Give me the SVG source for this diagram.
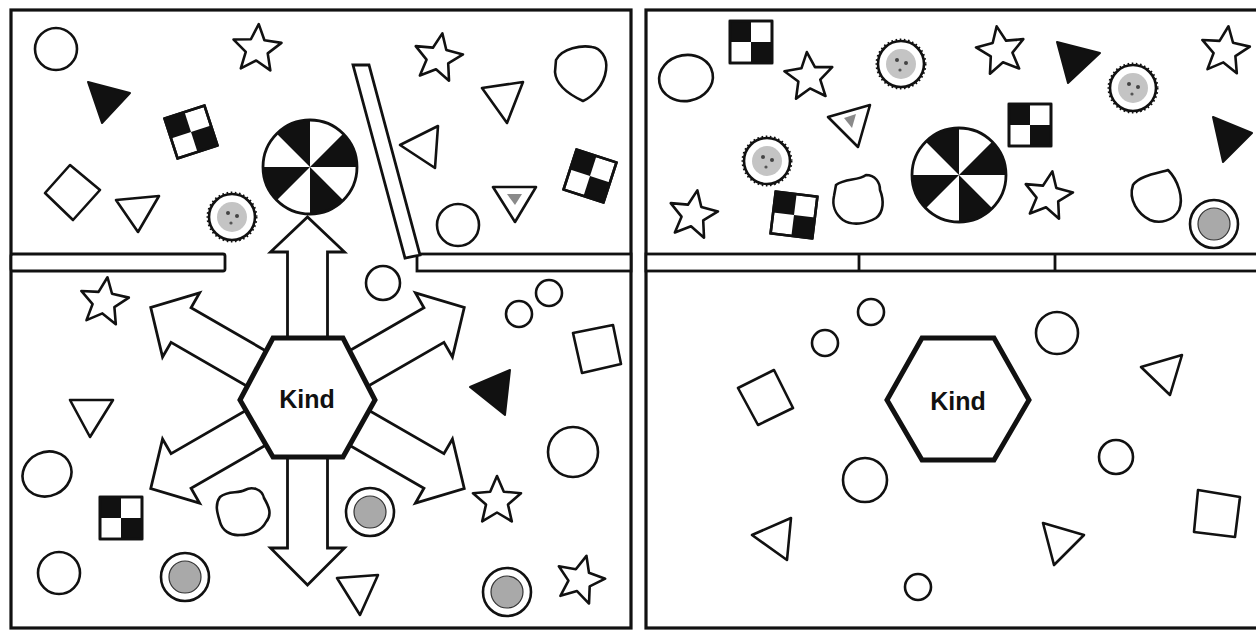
<svg xmlns="http://www.w3.org/2000/svg" xmlns:xlink="http://www.w3.org/1999/xlink" width="1256" height="633" viewBox="0 0 1256 633">
<style>
.o{fill:#fff;stroke:#111;stroke-width:2.6;stroke-linejoin:round}
.f{fill:#111;stroke:#111;stroke-width:2;stroke-linejoin:round}
.panel{fill:#fff;stroke:#111;stroke-width:3.2}
.shelf{fill:#fff;stroke:#111;stroke-width:2.8}
.hex{fill:#fff;stroke:#111;stroke-width:5;stroke-linejoin:miter}
.arrow{fill:#fff;stroke:#111;stroke-width:2.8;stroke-linejoin:miter}
.lbl{font-family:"Liberation Sans",Arial,sans-serif;font-weight:bold;font-size:25px;fill:#111;text-anchor:middle}
</style>
<defs>
<polygon id="star" class="o" points="0,-25 6.8,-9.3 24,-7.8 11,3.6 14.8,20.4 0,11.5 -14.8,20.4 -11,3.6 -24,-7.8 -6.8,-9.3"/>
<g id="checker">
<rect x="-21" y="-21" width="42" height="42" class="o"/>
<rect x="-21" y="-21" width="21" height="21" fill="#111"/>
<rect x="0" y="0" width="21" height="21" fill="#111"/>
<rect x="-21" y="-21" width="42" height="42" fill="none" stroke="#111" stroke-width="2.6"/>
</g>
<g id="pinwheel">
<circle r="47" fill="#fff"/>
<path d="M0,0 L33.2,-33.2 A47,47 0 0 1 47,0 Z M0,0 L33.2,33.2 A47,47 0 0 1 0,47 Z M0,0 L-33.2,33.2 A47,47 0 0 1 -47,0 Z M0,0 L-33.2,-33.2 A47,47 0 0 1 0,-47 Z" fill="#111"/>
<circle r="47" fill="none" stroke="#111" stroke-width="2.8"/>
</g>
<g id="cellA">
<circle r="24" class="o"/>
<circle r="16" fill="#a9a9a9" stroke="#333" stroke-width="1.2"/>
</g>
<g id="cellB">
<circle r="23" class="o"/>
<circle r="24.5" fill="none" stroke="#111" stroke-width="2" stroke-dasharray="1.6 2.6"/>
<circle r="15" fill="#c4c4c4"/>
<circle cx="-4" cy="-4" r="2" fill="#444"/>
<circle cx="5" cy="-1" r="2" fill="#444"/>
<circle cx="-1" cy="6" r="1.6" fill="#555"/>
</g>
<path id="arrowD" class="arrow" d="M-20,0 L-20,-146 L-37,-146 L0,-181 L37,-146 L20,-146 L20,0 Z"/>
</defs>

<g id="panel-left">
<rect class="panel" x="11" y="10" width="620" height="618"/>
</g>
<g id="panel-right">
<rect class="panel" x="646" y="10" width="620" height="618"/>
</g>

<g id="shelves">
<rect class="shelf" x="11" y="254" width="214" height="17" rx="2"/>
<rect class="shelf" x="417" y="254" width="214" height="17"/>
<polygon class="shelf" points="353,65 369,65 420,255 405,258"/>
<rect class="shelf" x="646" y="254" width="620" height="17"/>
<line x1="859" y1="254" x2="859" y2="271" stroke="#111" stroke-width="2.8"/>
<line x1="1055" y1="254" x2="1055" y2="271" stroke="#111" stroke-width="2.8"/>
</g>

<g id="connectors">
<use xlink:href="#arrowD" transform="translate(307.5,398) rotate(0)"/>
<use xlink:href="#arrowD" transform="translate(307.5,398) rotate(60)"/>
<use xlink:href="#arrowD" transform="translate(307.5,398) rotate(120)"/>
<path class="arrow" transform="translate(307.5,398) rotate(180)" d="M-20,0 L-20,-150 L-37,-150 L0,-187 L37,-150 L20,-150 L20,0 Z"/>
<use xlink:href="#arrowD" transform="translate(307.5,398) rotate(240)"/>
<use xlink:href="#arrowD" transform="translate(307.5,398) rotate(300)"/>
</g>

<g id="kind-left">
<polygon class="hex" points="240,400 273,338 343,338 375,400 343,457 273,457"/>
<text class="lbl" x="307" y="408">Kind</text>
</g>
<g id="kind-right">
<polygon class="hex" points="887,400 922,338 994,338 1029,400 994,460 922,460"/>
<text class="lbl" x="958" y="410">Kind</text>
</g>

<g id="left-top">
<circle class="o" cx="56" cy="49" r="21"/>
<use xlink:href="#star" transform="translate(257,49) rotate(4)"/>
<polygon class="f" points="88,82 130,93 102,123"/>
<use xlink:href="#checker" transform="translate(191,132) rotate(-18)"/>
<polygon class="o" points="45,193 70,165 100,190 73,220"/>
<polygon class="o" points="116,200 159,196 138,232"/>
<use xlink:href="#cellB" transform="translate(232,217)"/>
<use xlink:href="#pinwheel" transform="translate(310,167)"/>
<use xlink:href="#star" transform="translate(438,58) rotate(10)"/>
<path class="o" d="M556,60 C562,48 582,45 592,47 C600,48 608,57 606,70 C604,86 592,97 583,101 C570,95 556,86 555,72 Z"/>
<polygon class="o" points="482,88 523,82 507,123"/>
<polygon class="o" points="400,145 438,126 435,168"/>
<circle class="o" cx="458" cy="225" r="21"/>
<polygon class="o" points="493,187 536,187 515,222"/>
<polygon fill="#8a8a8a" points="507,194 522,194 515,205"/>
<use xlink:href="#checker" transform="translate(590,176) rotate(18)"/>
</g>

<g id="left-bottom">
<use xlink:href="#star" transform="translate(104,302) rotate(8)"/>
<polygon class="o" points="70,400 113,400 90,437"/>
<ellipse class="o" cx="47" cy="474" rx="25" ry="22" transform="rotate(-25 47 474)"/>
<use xlink:href="#checker" transform="translate(121,518)"/>
<circle class="o" cx="59" cy="573" r="21"/>
<use xlink:href="#cellA" transform="translate(185,577)"/>
<path class="o" d="M220,497 C228,490 238,494 245,490 C252,486 262,489 264,498 C268,505 273,514 266,522 C262,530 252,535 240,535 C230,536 222,530 220,522 C218,515 214,505 220,497 Z"/>
<circle class="o" cx="383" cy="283" r="17"/>
<circle class="o" cx="519" cy="314" r="13"/>
<circle class="o" cx="549" cy="293" r="13"/>
<polygon class="o" points="573,333 613,325 621,364 582,373"/>
<polygon class="f" points="470,387 510,370 505,415"/>
<circle class="o" cx="573" cy="452" r="25"/>
<use xlink:href="#star" transform="translate(497,501) rotate(0)"/>
<use xlink:href="#cellA" transform="translate(370,512)"/>
<polygon class="o" points="337,578 378,575 360,615"/>
<use xlink:href="#cellA" transform="translate(507,592)"/>
<use xlink:href="#star" transform="translate(580,580) rotate(15)"/>
</g>

<g id="right-top">
<ellipse class="o" cx="686" cy="78" rx="27" ry="23" transform="rotate(-10 686 78)"/>
<use xlink:href="#checker" transform="translate(751,42)"/>
<use xlink:href="#star" transform="translate(809,77) rotate(-5)"/>
<use xlink:href="#cellB" transform="translate(901,64)"/>
<polygon class="o" points="828,117 870,105 858,147"/>
<polygon fill="#8a8a8a" points="844,118 856,114 852,128"/>
<use xlink:href="#cellB" transform="translate(767,161)"/>
<use xlink:href="#star" transform="translate(693,215) rotate(10)"/>
<use xlink:href="#checker" transform="translate(794,215) rotate(7)"/>
<path class="o" d="M836,185 C845,178 858,181 866,175 C875,175 880,182 880,190 C884,200 884,212 876,218 C866,224 852,226 843,220 C835,214 832,205 834,196 Z"/>
<use xlink:href="#pinwheel" transform="translate(959,175)"/>
<use xlink:href="#star" transform="translate(1001,51) rotate(-10)"/>
<polygon class="f" points="1057,42 1100,53 1068,83"/>
<use xlink:href="#cellB" transform="translate(1133,88)"/>
<use xlink:href="#star" transform="translate(1225,51) rotate(8)"/>
<use xlink:href="#checker" transform="translate(1030,125)"/>
<polygon class="f" points="1213,117 1252,133 1223,162"/>
<use xlink:href="#star" transform="translate(1048,196) rotate(10)"/>
<path class="o" d="M1133,185 C1140,175 1160,173 1168,170 C1178,180 1184,198 1179,210 C1173,221 1160,224 1150,220 C1138,214 1128,200 1133,185 Z"/>
<use xlink:href="#cellA" transform="translate(1214,224)"/>
</g>

<g id="right-bottom">
<circle class="o" cx="871" cy="312" r="13"/>
<circle class="o" cx="825" cy="343" r="13"/>
<circle class="o" cx="1057" cy="333" r="21"/>
<polygon class="o" points="738,388 774,370 793,408 758,425"/>
<polygon class="o" points="1141,367 1182,355 1170,395"/>
<circle class="o" cx="1116" cy="457" r="17"/>
<circle class="o" cx="865" cy="480" r="22"/>
<polygon class="o" points="1198,490 1240,497 1235,537 1194,532"/>
<polygon class="o" points="752,535 791,518 787,560"/>
<polygon class="o" points="1043,523 1084,535 1054,565"/>
<circle class="o" cx="918" cy="587" r="13"/>
</g>
</svg>
